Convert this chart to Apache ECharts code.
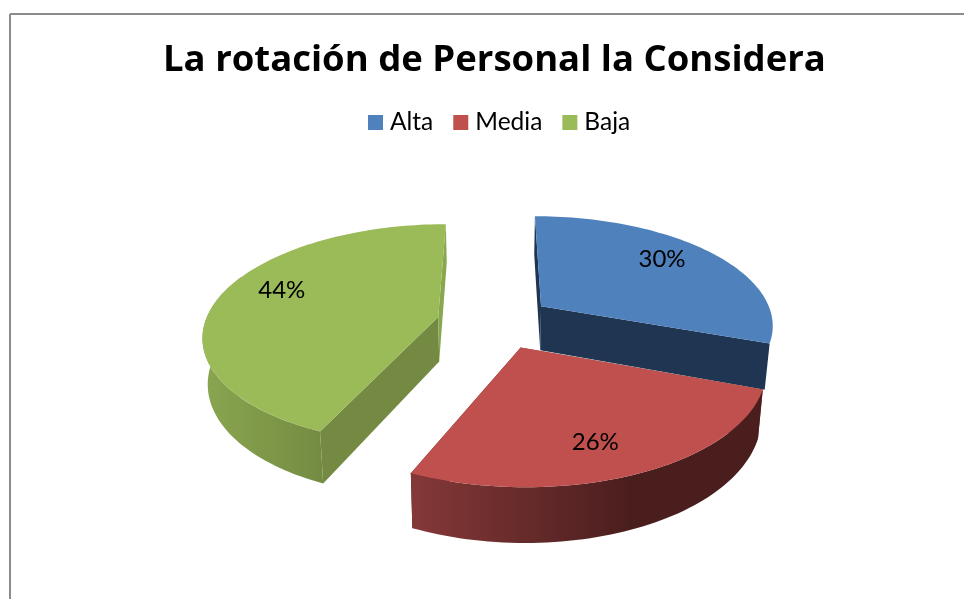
<!DOCTYPE html>
<html>
<head>
<meta charset="utf-8">
<style>html,body{margin:0;padding:0;background:#fff}#c{width:964px;height:599px}</style>
<script src="https://cdn.jsdelivr.net/npm/echarts@6/dist/echarts.min.js"></script>
</head>
<body>
<div id="c"></div>
<script>
var titleText = 'La rotación de Personal la Considera';
var categories = ['Alta', 'Media', 'Baja'];
var values = [30, 26, 44];

var topColors = ['#4f81bd', '#c0504d', '#9bbb59'];
var view = { cx: 495, cy: 322, A: 233, B: 108.8, p: 0.157, H: 45, explode: 0.25, labelR: 0.76, warp: 2.2, converge: 0.018 };
var labelTurn = [-4.5, 3.0, 8.0];
var layers = [1, 3, 2];
var RAD = Math.PI / 180;

function walls(i) {
  if (i === 0) return { start: '#1f3552', end: '#1f3552', arc: null };
  if (i === 1) return { start: '#853838', end: '#4b1e1e',
    arc: new echarts.graphic.LinearGradient(0, 0, 1, 0, [
      { offset: 0, color: '#853838' }, { offset: 0.62, color: '#4b1e1e' }, { offset: 1, color: '#4b1e1e' }]) };
  return { start: '#748a42', end: '#87a84c',
    arc: new echarts.graphic.LinearGradient(0, 0, 1, 0, [
      { offset: 0, color: '#8aa650' }, { offset: 1, color: '#748b42' }]) };
}

function project(x, y, z) {
  var w = 1 - view.p * y;
  var shrink = 1 - view.converge * z / view.H;
  return [view.cx + view.A * x / w * shrink, view.cy + (view.B * y + z) / w];
}

function renderSlice(i, params, api) {
  var v = api.value(0);
  var total = values.reduce(function (a, b) { return a + b; }, 0);
  var before = values.slice(0, i).reduce(function (a, b) { return a + b; }, 0);
  var a0 = before / total * 360, a1 = (before + v) / total * 360, mid = (a0 + a1) / 2;
  var ox = view.explode * Math.sin(mid * RAD), oy = -view.explode * Math.cos(mid * RAD);
  var pt = function (deg, r, z) {
    var d = deg + view.warp * Math.sin(deg / 2 * RAD);
    return project(ox + r * Math.sin(d * RAD), oy - r * Math.cos(d * RAD), z);
  };
  var arc = function (from, to, z) {
    var out = [], n = Math.max(2, Math.ceil((to - from) / 1.5));
    for (var k = 0; k <= n; k++) out.push(pt(from + (to - from) * k / n, 1, z));
    return out;
  };
  var H = view.H, w = walls(i), children = [];
  var poly = function (points, fill) {
    children.push({ type: 'polygon', shape: { points: points }, style: { fill: fill, stroke: null } });
  };
  poly([pt(0, 0, 0), pt(a0, 1, 0), pt(a0, 1, H), pt(0, 0, H)], w.start);
  poly([pt(0, 0, 0), pt(a1, 1, 0), pt(a1, 1, H), pt(0, 0, H)], w.end);
  var vis0 = Math.max(a0, 90), vis1 = Math.min(a1, 292);
  if (w.arc && vis1 > vis0) poly(arc(vis0, vis1, 0).concat(arc(vis0, vis1, H).reverse()), w.arc);
  poly([pt(0, 0, 0)].concat(arc(a0, a1, 0)), topColors[i]);
  var lp = pt(mid + labelTurn[i], view.labelR, 0);
  children.push({ type: 'text', x: lp[0], y: lp[1], style: {
    text: v + '%', fill: '#000', font: '24px Lato, sans-serif', align: 'center', verticalAlign: 'middle' } });
  return { type: 'group', children: children };
}

var chart = echarts.init(document.getElementById('c'), null, { renderer: 'canvas' });
chart.setOption({
  animation: false,
  backgroundColor: '#fff',
  title: {
    text: titleText, left: 158, top: 37,
    textStyle: { fontFamily: 'Open Sans', fontWeight: 'bold', fontSize: 36.5, color: '#000' }
  },
  legend: {
    data: categories, left: 368, top: 110, padding: 0, itemWidth: 15, itemHeight: 15, itemGap: 20,
    icon: 'rect',
    textStyle: { fontFamily: 'Lato', fontSize: 24.5, color: '#000', padding: [0, 0, 0, 2] }
  },
  graphic: [
    { type: 'line', shape: { x1: 10, y1: 14, x2: 964, y2: 14 }, style: { stroke: '#8c8c8c', lineWidth: 2 } },
    { type: 'line', shape: { x1: 10, y1: 14, x2: 10, y2: 599 }, style: { stroke: '#8c8c8c', lineWidth: 2 } }
  ],
  series: categories.map(function (name, i) {
    return {
      type: 'custom', name: name, coordinateSystem: 'none', z: layers[i],
      itemStyle: { color: topColors[i] },
      data: [[values[i]]],
      renderItem: function (params, api) { return renderSlice(i, params, api); }
    };
  })
});
</script>
</body>
</html>
